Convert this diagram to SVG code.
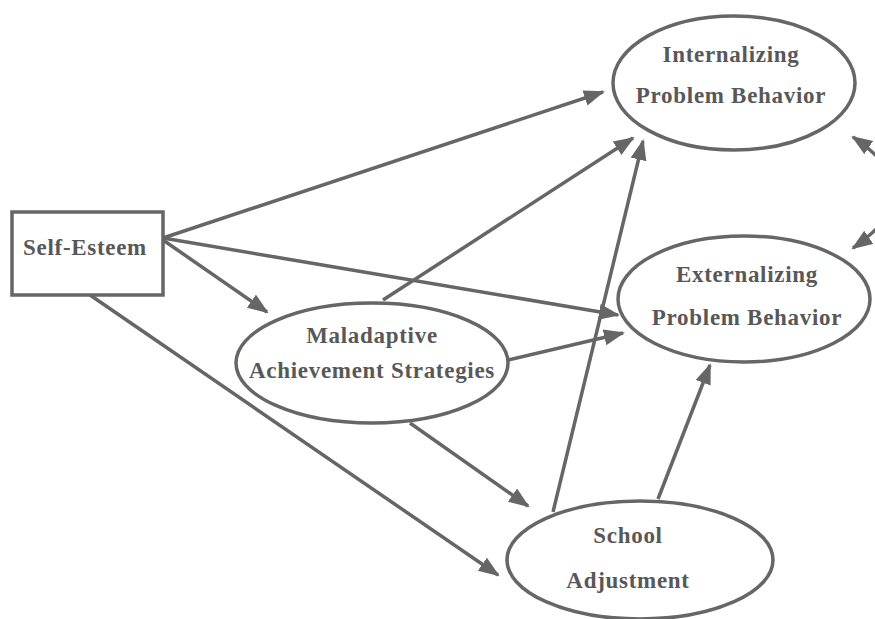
<svg xmlns="http://www.w3.org/2000/svg" width="875" height="619" viewBox="0 0 875 619">
  <style>
    .node { fill: #fff; stroke: #666; stroke-width: 3.5; }
    .label { font-family: "Liberation Serif", "Times New Roman", serif; font-weight: bold; font-size: 23px; fill: #585858; text-anchor: middle; letter-spacing: 0.7px; }
    .edge { fill: none; stroke: #666; stroke-width: 3.5; marker-end: url(#arrow); }
  </style>
  <defs>
    <marker id="arrow" markerUnits="userSpaceOnUse" markerWidth="22" markerHeight="18" refX="19" refY="8" orient="auto-start-reverse">
      <path d="M0,0 L21,8 L0,16 z" fill="#666"/>
    </marker>
  </defs>
  <rect width="875" height="619" fill="#fff"/>

  <!-- connectors -->
  <g id="connectors">
    <line class="edge" x1="163" y1="238" x2="603" y2="92"/>
    <line class="edge" x1="163" y1="238" x2="618" y2="315"/>
    <line class="edge" x1="163" y1="240" x2="267" y2="312"/>
    <line class="edge" x1="90" y1="295" x2="498" y2="575"/>
    <line class="edge" x1="383" y1="300" x2="633" y2="138"/>
    <line class="edge" x1="508" y1="360" x2="623" y2="333"/>
    <line class="edge" x1="410" y1="423" x2="528" y2="506"/>
    <line class="edge" x1="553" y1="512" x2="643" y2="141"/>
    <line class="edge" x1="658" y1="499" x2="710" y2="365"/>
    <!-- two-headed correlation arc, bowing out past the right edge -->
    <path class="edge" d="M853,137 Q935,192 853,248" marker-start="url(#arrow)"/>
  </g>

  <g id="self-esteem">
    <rect class="node" x="12" y="212" width="151" height="83"/>
    <text class="label" x="85" y="255">Self-Esteem</text>
  </g>

  <g id="internalizing">
    <ellipse class="node" cx="734" cy="83" rx="121" ry="67"/>
    <text class="label" x="731" y="62">Internalizing</text>
    <text class="label" x="731" y="103">Problem Behavior</text>
  </g>

  <g id="externalizing">
    <ellipse class="node" cx="744" cy="299" rx="126" ry="63"/>
    <text class="label" x="747" y="282">Externalizing</text>
    <text class="label" x="747" y="325">Problem Behavior</text>
  </g>

  <g id="maladaptive">
    <ellipse class="node" cx="372" cy="363" rx="136" ry="60"/>
    <text class="label" x="372" y="343">Maladaptive</text>
    <text class="label" x="372" y="378">Achievement Strategies</text>
  </g>

  <g id="school">
    <ellipse class="node" cx="640" cy="560" rx="133" ry="59"/>
    <text class="label" x="628" y="543">School</text>
    <text class="label" x="628" y="588">Adjustment</text>
  </g>
</svg>
